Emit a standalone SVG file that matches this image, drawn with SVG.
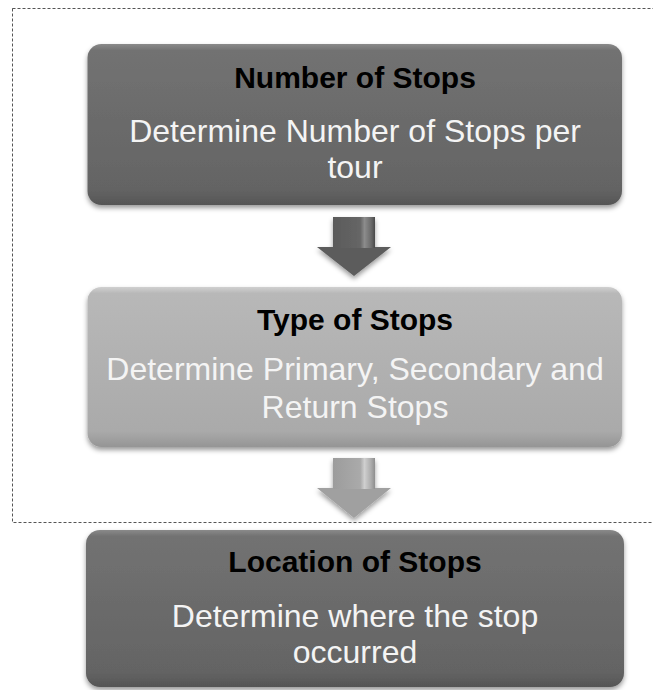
<svg xmlns="http://www.w3.org/2000/svg" width="653" height="690" viewBox="0 0 653 690">
<defs>
<style>
.title{font-family:"Liberation Sans",Arial,sans-serif;font-weight:bold;font-size:30px;fill:#000;text-anchor:middle}
.sub{font-family:"Liberation Sans",Arial,sans-serif;font-size:32px;fill:#f4f4f4;text-anchor:middle}
.frame{fill:none;stroke:#555;stroke-width:1;stroke-dasharray:3,2}
</style>
<linearGradient id="gDark" x1="0" y1="0" x2="0" y2="1">
<stop offset="0" stop-color="#8a8a8a"/>
<stop offset="0.04" stop-color="#727272"/>
<stop offset="0.9" stop-color="#646464"/>
<stop offset="1" stop-color="#555"/>
</linearGradient>
<linearGradient id="gLight" x1="0" y1="0" x2="0" y2="1">
<stop offset="0" stop-color="#d0d0d0"/>
<stop offset="0.04" stop-color="#b8b8b8"/>
<stop offset="0.9" stop-color="#aaaaaa"/>
<stop offset="1" stop-color="#959595"/>
</linearGradient>
<linearGradient id="aDark" x1="0" y1="0" x2="1" y2="0">
<stop offset="0" stop-color="#5a5a5a"/>
<stop offset="0.65" stop-color="#666"/>
<stop offset="0.75" stop-color="#8c8c8c"/>
<stop offset="0.9" stop-color="#6c6c6c"/>
<stop offset="1" stop-color="#4a4a4a"/>
</linearGradient>
<linearGradient id="aLight" x1="0" y1="0" x2="1" y2="0">
<stop offset="0" stop-color="#9c9c9c"/>
<stop offset="0.65" stop-color="#aaa"/>
<stop offset="0.75" stop-color="#cfcfcf"/>
<stop offset="0.9" stop-color="#adadad"/>
<stop offset="1" stop-color="#8e8e8e"/>
</linearGradient>
<filter id="shadow" x="-5%" y="-5%" width="110%" height="120%">
<feDropShadow dx="0" dy="3" stdDeviation="2.5" flood-color="#000" flood-opacity="0.4"/>
</filter>
</defs>
<rect class="frame" x="12.5" y="8.5" width="650" height="514"/>
<g id="connectors">
<g id="arrow1" filter="url(#shadow)">
<polygon points="333,217 375,217 375,247 391,247 354,276 317,247 333,247" fill="#5c5c5c"/>
<rect x="333" y="217" width="42" height="31" fill="url(#aDark)"/>
</g>
<g id="arrow2" filter="url(#shadow)">
<polygon points="333,458 375,458 375,488 391,488 354,518 317,488 333,488" fill="#a0a0a0"/>
<rect x="333" y="458" width="42" height="31" fill="url(#aLight)"/>
</g>
</g>
<g id="node1">
<rect x="87.5" y="44" width="534.5" height="161" rx="14" fill="url(#gDark)" filter="url(#shadow)"/>
<text class="title" x="355" y="88">Number of Stops</text>
<text class="sub" x="355" y="142">Determine Number of Stops per</text>
<text class="sub" x="355" y="178">tour</text>
</g>
<g id="node2">
<rect x="87.5" y="287" width="534.5" height="160" rx="14" fill="url(#gLight)" filter="url(#shadow)"/>
<text class="title" x="355" y="330">Type of Stops</text>
<text class="sub" x="355" y="380">Determine Primary, Secondary and</text>
<text class="sub" x="355" y="418">Return Stops</text>
</g>
<g id="node3">
<rect x="86" y="530" width="538" height="157" rx="14" fill="url(#gDark)" filter="url(#shadow)"/>
<text class="title" x="355" y="572">Location of Stops</text>
<text class="sub" x="355" y="627">Determine where the stop</text>
<text class="sub" x="355" y="663">occurred</text>
</g>
</svg>
